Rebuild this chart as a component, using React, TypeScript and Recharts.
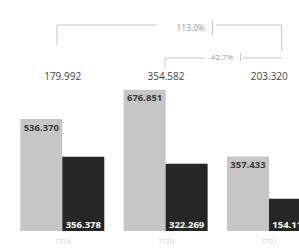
import React from "react";
import {
  BarChart,
  Bar,
  XAxis,
  YAxis,
  LabelList,
  ReferenceLine,
  ReferenceDot,
} from "recharts";

const categories = ["1T19", "1T20", "1T21"];
const lightValues = [536.37, 676.851, 357.433];
const darkValues = [356.378, 322.269, 154.113];
const diffLabels = ["179.992", "354.582", "203.320"];
const pctLabels = ["113.0%", "-42.7%"];

const data = categories.map((name, i) => ({
  name,
  idx: i,
  a: lightValues[i],
  b: darkValues[i],
}));

const FONT = "'Open Sans', 'Liberation Sans', sans-serif";
const LINE = "#c4c4c4";
const fmt = (v: any) => Number(v).toFixed(3);

export default function App() {
  return (
    <div
      style={{
        position: "absolute",
        left: 0,
        top: 0,
        width: 299,
        height: 248,
        overflow: "hidden",
        background: "#fff",
      }}
    >
      <BarChart
        width={330}
        height={248}
        data={data}
        margin={{ top: 15, right: 9, left: 11, bottom: 0 }}
        barCategoryGap="9%"
        barGap={0}
      >
        <XAxis
          xAxisId="c"
          dataKey="name"
          axisLine={false}
          tickLine={false}
          height={17}
          tick={{ fontSize: 7, fill: "#cfcfcf", fontFamily: FONT }}
        />
        <XAxis
          xAxisId="n"
          dataKey="idx"
          type="number"
          domain={[-0.5, 2.5]}
          ticks={[-0.5, 0, 1, 2, 2.5]}
          padding={{ left: 0, right: 0 }}
          hide
          allowDataOverflow
        />
        <YAxis hide domain={[0, 1035]} allowDataOverflow />
        <Bar xAxisId="c" dataKey="a" fill="#c6c6c6" isAnimationActive={false}>
          <LabelList
            dataKey="a"
            position="insideTop"
            offset={5}
            formatter={fmt}
            style={{ fontSize: 9.5, fontWeight: 700, fill: "#3a3a3a", fontFamily: FONT }}
          />
        </Bar>
        <Bar xAxisId="c" dataKey="b" fill="#262626" isAnimationActive={false}>
          <LabelList
            dataKey="b"
            position="insideBottom"
            offset={3}
            formatter={fmt}
            style={{ fontSize: 9.5, fontWeight: 700, fill: "#ffffff", fontFamily: FONT }}
          />
        </Bar>
        {categories.map((c, i) => (
          <ReferenceDot
            key={c}
            xAxisId="c"
            x={c}
            y={740}
            r={0}
            fill="none"
            stroke="none"
            ifOverflow="visible"
            label={{
              value: diffLabels[i],
              position: "center",
              fill: "#444",
              fontSize: 10,
              fontFamily: FONT,
            }}
          />
        ))}
        {/* bracket 1: group 1 -> group 3 */}
        <ReferenceLine xAxisId="n" ifOverflow="visible" stroke={LINE} segment={[{ x: -0.055, y: 987 }, { x: 0.91, y: 987 }]} />
        <ReferenceLine xAxisId="n" ifOverflow="visible" stroke={LINE} segment={[{ x: 1.48, y: 987 }, { x: 2.12, y: 987 }]} />
        <ReferenceLine xAxisId="n" ifOverflow="visible" stroke={LINE} segment={[{ x: -0.055, y: 987 }, { x: -0.055, y: 891 }]} />
        <ReferenceLine xAxisId="n" ifOverflow="visible" stroke={LINE} segment={[{ x: 2.12, y: 987 }, { x: 2.12, y: 862 }]} />
        <ReferenceLine xAxisId="n" ifOverflow="visible" stroke={LINE} segment={[{ x: 1.45, y: 1011 }, { x: 1.45, y: 939 }]} />
        <ReferenceDot
          xAxisId="n"
          x={1.24}
          y={975}
          r={0}
          fill="none"
          stroke="none"
          ifOverflow="visible"
          label={{ value: pctLabels[0], position: "center", fill: "#999", fontSize: 8.5, fontFamily: FONT }}
        />
        {/* bracket 2: group 2 -> group 3 */}
        <ReferenceLine xAxisId="n" ifOverflow="visible" stroke={LINE} segment={[{ x: 0.99, y: 829 }, { x: 1.38, y: 829 }]} />
        <ReferenceLine xAxisId="n" ifOverflow="visible" stroke={LINE} segment={[{ x: 1.74, y: 829 }, { x: 2.12, y: 829 }]} />
        <ReferenceLine xAxisId="n" ifOverflow="visible" stroke={LINE} segment={[{ x: 0.99, y: 829 }, { x: 0.99, y: 781 }]} />
        <ReferenceLine xAxisId="n" ifOverflow="visible" stroke={LINE} segment={[{ x: 1.72, y: 853 }, { x: 1.72, y: 815 }]} />
        <ReferenceDot
          xAxisId="n"
          x={1.53}
          y={832}
          r={0}
          fill="none"
          stroke="none"
          ifOverflow="visible"
          label={{ value: pctLabels[1], position: "center", fill: "#999", fontSize: 8, fontFamily: FONT }}
        />
      </BarChart>
    </div>
  );
}
